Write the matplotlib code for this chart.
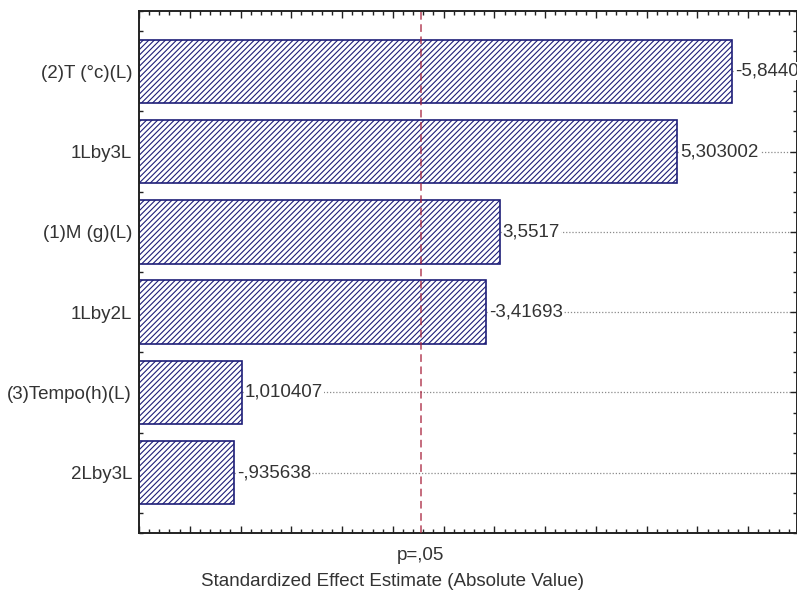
import numpy as np
import matplotlib.pyplot as plt
from matplotlib.ticker import MultipleLocator

plt.rcParams['font.family'] = ['Liberation Sans', 'DejaVu Sans']
plt.rcParams['hatch.linewidth'] = 0.8

# effects sorted by absolute size (Pareto order, largest on top)
effects = ['(2)T (°c)(L)', '1Lby3L', '(1)M (g)(L)', '1Lby2L', '(3)Tempo(h)(L)', '2Lby3L']
estimates = [-5.844036, 5.303002, 3.5517, -3.41693, 1.010407, -0.935638]
p_crit = 2.776445  # t value for p=.05
p_label = 'p=,05'
x_title = 'Standardized Effect Estimate (Absolute Value)'


def fmt(v):
    s = f'{v:.7g}'.replace('.', ',')
    s = s.replace('-0,', '-,')
    if s.startswith('0,'):
        s = s[1:]
    return s


navy = '#1e1e78'
txt = '#333333'
fs = 13.5

fig = plt.figure(figsize=(7.97, 5.95), dpi=100)
ax = fig.add_axes([0.1744, 0.1042, 0.8256, 0.8773])

xmax = 6.48
ypos = np.arange(len(effects))[::-1]
vals = np.abs(estimates)

ax.barh(ypos, vals, height=0.79, color='white', edgecolor=navy,
        hatch='//////', linewidth=1.2, zorder=2)

for y, v, e in zip(ypos, vals, estimates):
    ax.hlines(y, v, xmax, colors='#8a8a8a', linestyles=(0, (1, 1.5)),
              linewidth=0.9, zorder=1)
    ax.text(v + 0.03, y, fmt(e), ha='left', va='center', fontsize=fs,
            color=txt, zorder=3,
            bbox=dict(facecolor='white', edgecolor='none', pad=0.5))

ax.axvline(p_crit, color='#a8243e', linestyle=(0, (5, 3)), linewidth=1.1,
           alpha=0.85, zorder=4)

ax.set_xlim(0, xmax)
ax.set_ylim(-0.75, len(effects) - 0.25)
ax.set_yticks(ypos)
ax.set_yticklabels(effects, fontsize=fs, color=txt)
ax.yaxis.set_minor_locator(MultipleLocator(0.25))
ax.xaxis.set_major_locator(MultipleLocator(0.5))
ax.xaxis.set_minor_locator(MultipleLocator(0.1))
ax.tick_params(axis='x', which='major', labelbottom=False)

ax.tick_params(which='both', direction='in', top=True, right=True,
               color='#222222', width=1.0)
ax.tick_params(which='major', length=5)
ax.tick_params(which='minor', length=3)
ax.tick_params(axis='y', which='major', pad=5)

# critical value label under the axis, then the axis title
ax.annotate(p_label, xy=(p_crit, 0), xycoords=('data', 'figure fraction'),
            xytext=(0, 595 - 556), textcoords='offset pixels',
            ha='center', va='center', fontsize=fs, color=txt)
fig.text(0.492, 1 - 581 / 595, x_title, ha='center', va='center',
         fontsize=fs, color=txt)

for s in ax.spines.values():
    s.set_linewidth(1.4)
    s.set_color('#222222')

fig.savefig('out.png', dpi=100)
